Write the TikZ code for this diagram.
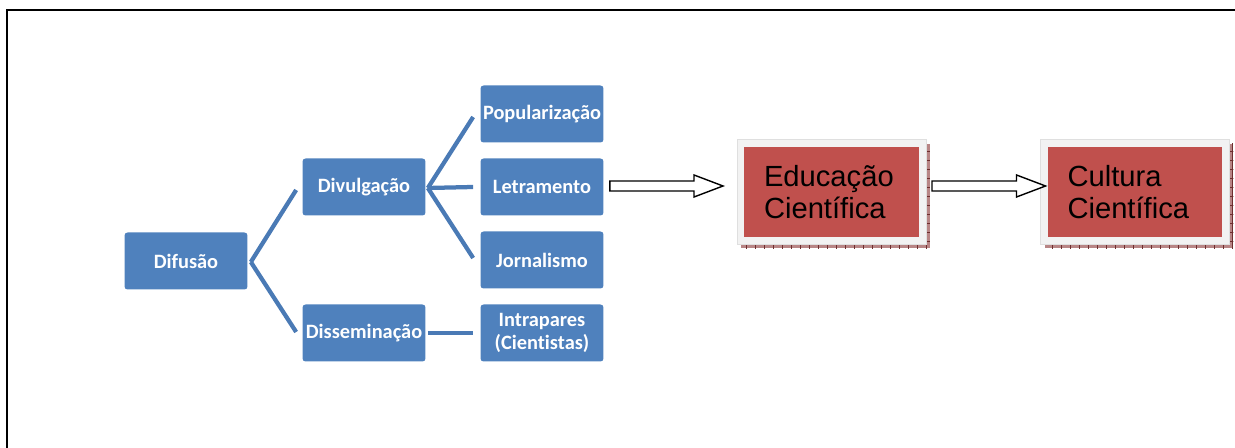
\documentclass[tikz,border=0pt]{standalone}
\usepackage{fontspec}
\newfontfamily\boxfont[Ligatures=NoCommon]{Carlito}
\newfontfamily\arialfont{Liberation Sans}
\usetikzlibrary{calc, backgrounds, patterns.meta}

\definecolor{boxblue}{HTML}{4F81BD}
\definecolor{lineblue}{HTML}{4A7AB5}
\definecolor{edured}{HTML}{C0504D}
\definecolor{framegray}{HTML}{F2F2F2}
\definecolor{shadowred}{HTML}{B88585}
\definecolor{tickred}{HTML}{6E2E2E}

\tikzset{
    bluebox/.style={rectangle, rounded corners=0.06cm, fill=boxblue, text=white,
        minimum width=2.46cm, minimum height=1.14cm, inner sep=0pt, align=center,
        font=\boxfont\bfseries\fontsize{11.6}{12.6}\selectfont},
    redbox/.style={rectangle, fill=edured, draw=framegray, line width=0.14cm,
        minimum width=3.64cm, minimum height=1.96cm, text width=2.7cm,
        inner xsep=0.47cm, align=left,
        font=\arialfont\fontsize{16.6}{18.4}\selectfont},
    link/.style={draw=lineblue, line width=0.085cm},
    blockarrow/.style={draw=black, fill=white, line width=0.8pt, line join=miter}
}

\begin{document}
\begin{tikzpicture}[x=0.02cm, y=-0.02cm]
    \useasboundingbox (0,0) rectangle (1235,448);
    \draw[line width=0.05cm] (7,448) -- (7,10) -- (1235,10);

    % tree of blue boxes
    \node[bluebox] (dif) at (186,261) {Difusão};
    \node[bluebox] (div) at (364,187) {Divulgação};
    \node[bluebox] (dis) at (364,333) {Disseminação};
    \node[bluebox] (pop) at (542,114) {Popularização};
    \node[bluebox] (letr) at (542,187) {Letramento};
    \node[bluebox] (jorn) at (542,260) {Jornalismo};
    \node[bluebox] (intra) at (542,333) {Intrapares\\(Cientistas)};

    \draw[link] ($(dif.east)+(3,1)$) -- ($(div.west)+(-6,3)$);
    \draw[link] ($(dif.east)+(3,1)$) -- ($(dis.west)+(-6,-1)$);
    \draw[link] ($(div.east)+(2,1)$) -- ($(pop.west)+(-7,3)$);
    \draw[link] ($(div.east)+(2,1)$) -- ($(letr.west)+(-7,0)$);
    \draw[link] ($(div.east)+(2,1)$) -- ($(jorn.west)+(-7,-2)$);
    \draw[link] ($(dis.east)+(2,0)$) -- ($(intra.west)+(-7,0)$);

    % red boxes
    \node[redbox] (edu) at (831.5,192) {Educação\\Científica};
    \node[redbox] (cult) at (1135,192) {Cultura\\Científica};

    \begin{scope}[on background layer]
        \fill[shadowred] ($(edu.north west)+(4,4)$) rectangle ($(edu.south east)+(4,4)$);
        \fill[pattern={Hatch[distance=0.18cm, line width=0.35pt]}, pattern color=tickred]
            ($(edu.north west)+(4,4)$) rectangle ($(edu.south east)+(4,4)$);
        \fill[shadowred] ($(cult.north west)+(4,4)$) rectangle ($(cult.south east)+(4,4)$);
        \fill[pattern={Hatch[distance=0.18cm, line width=0.35pt]}, pattern color=tickred]
            ($(cult.north west)+(4,4)$) rectangle ($(cult.south east)+(4,4)$);
    \end{scope}
    \draw[gray!25, thin] (edu.north west) rectangle (edu.south east);
    \draw[gray!25, thin] (cult.north west) rectangle (cult.south east);

    % hollow arrows
    \coordinate (a1s) at ($(letr.east)+(6,-1)$);
    \coordinate (a1e) at ($(a1s -| edu.west)+(-14,0)$);
    \draw[blockarrow] ($(a1s)+(0,-5)$) -- ($(a1e)+(-29,-5)$) -- ($(a1e)+(-29,-11)$)
        -- (a1e) -- ($(a1e)+(-29,11)$) -- ($(a1e)+(-29,5)$) -- ($(a1s)+(0,5)$) -- cycle;
    \coordinate (a2s) at ($(edu.east |- a1s)+(6,0)$);
    \coordinate (a2e) at ($(a2s -| cult.west)+(5,0)$);
    \draw[blockarrow] ($(a2s)+(0,-5)$) -- ($(a2e)+(-29,-5)$) -- ($(a2e)+(-29,-11)$)
        -- (a2e) -- ($(a2e)+(-29,11)$) -- ($(a2e)+(-29,5)$) -- ($(a2s)+(0,5)$) -- cycle;
\end{tikzpicture}
\end{document}
